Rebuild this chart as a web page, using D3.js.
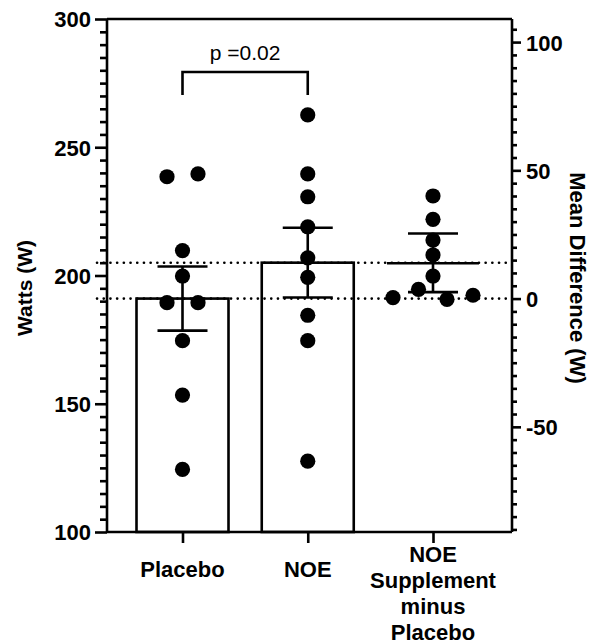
<!DOCTYPE html>
<html>
<head>
<meta charset="utf-8">
<script src="https://cdn.jsdelivr.net/npm/d3@7"></script>
<style>
  html, body { margin: 0; padding: 0; background: #fff; }
  svg { display: block; }
  text { font-family: "Liberation Sans", Arial, Helvetica, sans-serif; fill: #000; }
</style>
</head>
<body>
<svg id="chart" width="591" height="643"></svg>
<script>
// ---------------- data ----------------
const categories = ["Placebo", "NOE", "NOE Supplement minus Placebo"];
const categoryLines = [["Placebo"], ["NOE"], ["NOE", "Supplement", "minus", "Placebo"]];
const placeboWatts = [238.5, 239.6, 209.7, 199.8, 189.4, 189.4, 174.6, 153.4, 124.4];
const noeWatts = [262.6, 239.6, 230.7, 219.0, 206.9, 199.3, 184.5, 174.6, 127.6];
const diffWatts = [40.0, 30.9, 22.8, 17.0, 8.8, 3.6, 0.4, -0.3, 1.3];
const barMeans = [191.0, 205.0];
const barSEM = [12.5, 13.6];
const diffMean = 13.8;
const diffCI = [2.5, 25.4];
const leftTicks = [100, 150, 200, 250, 300];
const rightTicks = [-50, 0, 50, 100];
const pValueLabel = "p =0.02";
const leftTitle = "Watts (W)";
const rightTitle = "Mean Difference (W)";

// ---------------- layout ----------------
const plot = { left: 107, right: 512, top: 19, bottom: 532 };
const barWidth = 92, capHalf = 25, dotR = 7.6;
const swarm = {
  Placebo: [-15.5, 15.5, 0, 0, -15.5, 15.5, 0, 0, 0],
  NOE: [0, 0, 0, 0, 0, 0, 0, 0, 0],
  diff: [0, 0, 0, 0, 0, -14.5, -40, 14, 40]
};

const svg = d3.select("#chart");
const x = d3.scalePoint().domain(categories).range([182.5, 433]);
const y = d3.scaleLinear().domain([100, 300]).range([plot.bottom, plot.top]);
const yr = d3.scaleLinear()
  .domain([100 - barMeans[0], 300 - barMeans[0]])
  .range([plot.bottom, plot.top]);

const SW = 2.6;

// dotted reference lines
svg.selectAll("line.ref").data(barMeans).join("line")
  .attr("class", "ref")
  .attr("x1", 97).attr("x2", plot.right)
  .attr("y1", d => y(d)).attr("y2", d => y(d))
  .attr("stroke", "#000").attr("stroke-width", 2.6)
  .attr("stroke-linecap", "round")
  .attr("stroke-dasharray", "0.1,6.6");

// bars
svg.selectAll("rect.bar").data(barMeans).join("rect")
  .attr("class", "bar")
  .attr("x", (d, i) => x(categories[i]) - barWidth / 2)
  .attr("width", barWidth)
  .attr("y", d => y(d))
  .attr("height", d => plot.bottom - y(d))
  .attr("fill", "none").attr("stroke", "#000").attr("stroke-width", SW);

// dots
function drawDots(values, offsets, cx, scale) {
  svg.append("g").selectAll("circle").data(values).join("circle")
    .attr("cx", (d, i) => cx + offsets[i])
    .attr("cy", d => scale(d))
    .attr("r", dotR).attr("fill", "#000");
}
drawDots(placeboWatts, swarm.Placebo, x(categories[0]), y);
drawDots(noeWatts, swarm.NOE, x(categories[1]), y);
drawDots(diffWatts, swarm.diff, x(categories[2]), yr);

// error bars
function errBar(cx, lo, hi) {
  const g = svg.append("g").attr("stroke", "#000").attr("stroke-width", SW);
  g.append("line").attr("x1", cx).attr("x2", cx).attr("y1", lo).attr("y2", hi);
  g.append("line").attr("x1", cx - capHalf).attr("x2", cx + capHalf).attr("y1", lo).attr("y2", lo);
  g.append("line").attr("x1", cx - capHalf).attr("x2", cx + capHalf).attr("y1", hi).attr("y2", hi);
}
barMeans.forEach((m, i) => errBar(x(categories[i]), y(m - barSEM[i]), y(m + barSEM[i])));
errBar(x(categories[2]), yr(diffCI[0]), yr(diffCI[1]));
svg.append("line")
  .attr("x1", x(categories[2]) - barWidth / 2).attr("x2", x(categories[2]) + barWidth / 2)
  .attr("y1", yr(diffMean)).attr("y2", yr(diffMean))
  .attr("stroke", "#000").attr("stroke-width", SW);

// frame top line
svg.append("line").attr("x1", plot.left).attr("x2", plot.right)
  .attr("y1", plot.top).attr("y2", plot.top)
  .attr("stroke", "#000").attr("stroke-width", SW);

// left axis
const gl = svg.append("g").attr("transform", `translate(${plot.left},0)`);
gl.call(d3.axisLeft(y).tickValues(d3.range(100, 301, 5)).tickSize(7).tickFormat(""));
gl.call(g => g.selectAll(".tick").filter(d => leftTicks.includes(d)).select("line").attr("x2", -12));
gl.selectAll(".tick").filter(d => leftTicks.includes(d)).append("text")
  .attr("x", -16).attr("dy", "0.36em").attr("text-anchor", "end")
  .attr("font-size", 22).attr("font-weight", "bold").text(d => d);
gl.selectAll("path.domain").attr("stroke-width", SW).attr("d", `M0,${plot.top}V${plot.bottom}`);
gl.selectAll(".tick line").attr("stroke-width", SW);

// right axis
const gr = svg.append("g").attr("transform", `translate(${plot.right},0)`);
gr.call(d3.axisRight(yr).tickValues(d3.range(-90, 106, 5)).tickSize(5).tickFormat(""));
gr.call(g => g.selectAll(".tick").filter(d => rightTicks.includes(d)).select("line").attr("x2", 9));
gr.selectAll(".tick").filter(d => rightTicks.includes(d)).append("text")
  .attr("x", 14).attr("dy", "0.36em").attr("text-anchor", "start")
  .attr("font-size", 22).attr("font-weight", "bold").text(d => d);
gr.selectAll("path.domain").attr("stroke-width", SW).attr("d", `M0,${plot.top}V${plot.bottom}`);
gr.selectAll(".tick line").attr("stroke-width", SW);

// bottom axis
const gb = svg.append("g").attr("transform", `translate(0,${plot.bottom})`);
gb.call(d3.axisBottom(x).tickSize(11).tickFormat(""));
gb.selectAll("path.domain").attr("stroke-width", SW).attr("d", `M${plot.left},0H${plot.right}`);
gb.selectAll(".tick line").attr("stroke-width", SW);
const lineStart = [36, 36, 21];
categories.forEach((c, i) => {
  const t = svg.append("text").attr("text-anchor", "middle")
    .attr("font-size", 22).attr("font-weight", "bold");
  categoryLines[i].forEach((ln, j) => {
    t.append("tspan").attr("x", x(c)).attr("y", plot.bottom + 9 + lineStart[i] + j * 26).text(ln);
  });
});

// axis titles
svg.append("text").attr("transform", "translate(32,288) rotate(-90)")
  .attr("text-anchor", "middle").attr("font-size", 21).attr("font-weight", "bold").text(leftTitle);
svg.append("text").attr("transform", "translate(570,278) rotate(90)")
  .attr("text-anchor", "middle").attr("font-size", 22).attr("font-weight", "bold").text(rightTitle);

// significance bracket
const bx1 = x(categories[0]), bx2 = x(categories[1]);
svg.append("path")
  .attr("d", `M${bx1},95V72H${bx2}V95`)
  .attr("fill", "none").attr("stroke", "#000").attr("stroke-width", SW);
svg.append("text").attr("x", (bx1 + bx2) / 2).attr("y", 60)
  .attr("text-anchor", "middle").attr("font-size", 21).text(pValueLabel);
</script>
</body>
</html>
